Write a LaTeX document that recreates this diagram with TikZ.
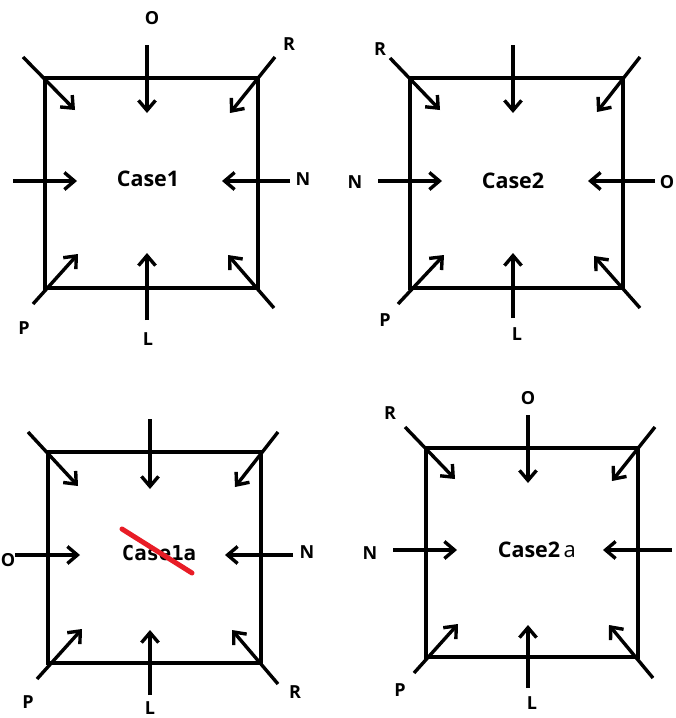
\documentclass[tikz,border=0pt]{standalone}
\usepackage{fontspec}
\setmainfont{Open Sans}
\newfontfamily\monofnt{DejaVu Sans Mono}
\usetikzlibrary{arrows.meta}

\definecolor{strikered}{RGB}{232,28,38}
\tikzset{
  box/.style={line width=3.4pt},
  arr/.style={line width=3.4pt,-{Straight Barb[length=10pt,width=17pt]}},
  lbl/.style={font=\fontsize{18}{18}\selectfont\bfseries,inner sep=0pt},
  casetxt/.style={font=\fontsize{21.5}{21.5}\selectfont\bfseries,inner sep=0pt}
}

\begin{document}
\begin{tikzpicture}[x=1pt,y=-1pt]
            \useasboundingbox (0,0) rectangle (676,718);
            % Case1
            \draw [box] (45,78) rectangle (258,288);
            \draw [arr] (23,57) -- (75,110);
            \draw [arr] (147,45) -- (147,113);
            \draw [arr] (275,57) -- (230,113);
            \draw [arr] (13,181) -- (77,181);
            \draw [arr] (290,181) -- (222,181);
            \draw [arr] (33,304) -- (78,254);
            \draw [arr] (147,320) -- (147,253);
            \draw [arr] (274,308) -- (228,255);
            \node [casetxt] (c1) at (148,179) {Case1};
            \node [lbl] (c1o) at (152,18) {O};
            \node [lbl] (c1r) at (289,44) {R};
            \node [lbl] (c1n) at (303,179) {N};
            \node [lbl] (c1p) at (24,328) {P};
            \node [lbl] (c1l) at (148,339) {L};
            % Case2
            \draw [box] (410,78) rectangle (623,288);
            \draw [arr] (390,58) -- (440,110);
            \draw [arr] (513,45) -- (513,113);
            \draw [arr] (640,57) -- (597,112);
            \draw [arr] (378,181) -- (442,181);
            \draw [arr] (655,181) -- (588,181);
            \draw [arr] (398,304) -- (444,255);
            \draw [arr] (513,318) -- (513,253);
            \draw [arr] (640,308) -- (594,256);
            \node [casetxt] (c2) at (513,181) {Case2};
            \node [lbl] (c2r) at (380,49) {R};
            \node [lbl] (c2n) at (355,182) {N};
            \node [lbl] (c2o) at (667,182) {O};
            \node [lbl] (c2p) at (385,320) {P};
            \node [lbl] (c2l) at (517,334) {L};
            % Case1a
            \draw [box] (48,452) rectangle (261,663);
            \draw [arr] (28,432) -- (78,486);
            \draw [arr] (150,419) -- (150,489);
            \draw [arr] (278,432) -- (235,487);
            \draw [arr] (15,555) -- (80,555);
            \draw [arr] (293,555) -- (225,555);
            \draw [arr] (37,679) -- (82,629);
            \draw [arr] (150,695) -- (150,630);
            \draw [arr] (278,684) -- (232,630);
            \node [inner sep=0pt,font=\monofnt\fontsize{20.5}{20.5}\selectfont\bfseries] (c3) at (159,553) {Case1a};
            \draw [strikered,line width=5pt,line cap=round] (122,529) -- (192,573);
            \node [lbl] (c3o) at (8,560) {O};
            \node [lbl] (c3n) at (307,552) {N};
            \node [lbl] (c3p) at (28,702) {P};
            \node [lbl] (c3l) at (150,708) {L};
            \node [lbl] (c3r) at (295,692) {R};
            % Case2a
            \draw [box] (426,448) rectangle (638,657);
            \draw [arr] (405,427) -- (455,479);
            \draw [arr] (528,415) -- (528,483);
            \draw [arr] (655,427) -- (612,481);
            \draw [arr] (393,550) -- (457,550);
            \draw [arr] (672,550) -- (603,550);
            \draw [arr] (414,673) -- (458,624);
            \draw [arr] (528,688) -- (528,625);
            \draw [arr] (653,678) -- (609,625);
            \node [casetxt] (c4) at (529,550) {Case2};
            \node [inner sep=0pt,font=\fontsize{22}{22}\selectfont\mdseries,anchor=base west] (c4a) at ([xshift=3pt]c4.base east) {a};
            \node [lbl] (c4r) at (390,413) {R};
            \node [lbl] (c4o) at (528,398) {O};
            \node [lbl] (c4n) at (370,553) {N};
            \node [lbl] (c4p) at (400,690) {P};
            \node [lbl] (c4l) at (532,703) {L};
\end{tikzpicture}
\end{document}
